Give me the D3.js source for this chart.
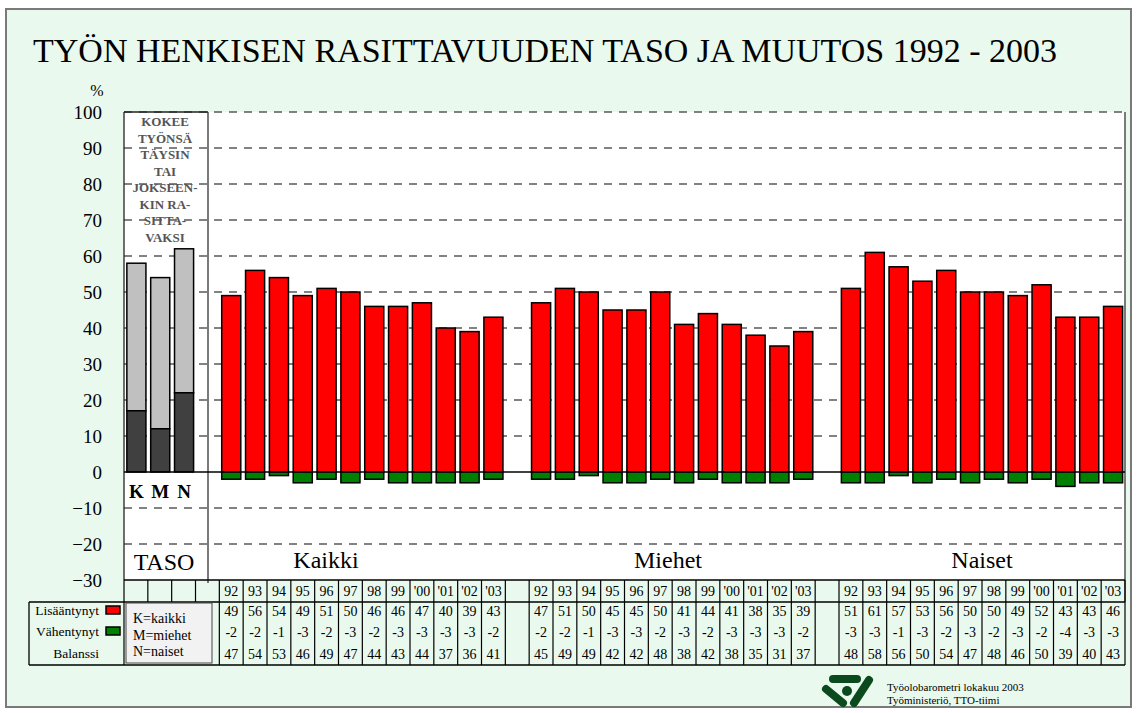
<!DOCTYPE html>
<html>
<head>
<meta charset="utf-8">
<script src="https://cdn.jsdelivr.net/npm/d3@7"></script>
<style>
  body { margin: 0; background: #fff; }
  svg text { font-family: 'Liberation Serif', 'Times New Roman', serif; }
</style>
</head>
<body>
<div id="chart"></div>
<script>
// Data
var years = ["92", "93", "94", "95", "96", "97", "98", "99", "'00", "'01", "'02", "'03"];
var groups = ["Kaikki", "Miehet", "Naiset"];

var kaikkiUp = [49, 56, 54, 49, 51, 50, 46, 46, 47, 40, 39, 43];
var kaikkiDown = [-2, -2, -1, -3, -2, -3, -2, -3, -3, -3, -3, -2];
var kaikkiBal = [47, 54, 53, 46, 49, 47, 44, 43, 44, 37, 36, 41];

var miehetUp = [47, 51, 50, 45, 45, 50, 41, 44, 41, 38, 35, 39];
var miehetDown = [-2, -2, -1, -3, -3, -2, -3, -2, -3, -3, -3, -2];
var miehetBal = [45, 49, 49, 42, 42, 48, 38, 42, 38, 35, 31, 37];

var naisetUp = [51, 61, 57, 53, 56, 50, 50, 49, 52, 43, 43, 46];
var naisetDown = [-3, -3, -1, -3, -2, -3, -2, -3, -2, -4, -3, -3];
var naisetBal = [48, 58, 56, 50, 54, 47, 48, 46, 50, 39, 40, 43];

// TASO: täysin (dark) + jokseenkin (light)
var tasoLabels = ["K", "M", "N"];
var tasoFully = [17, 12, 22];
var tasoSomewhat = [41, 42, 40];

var rowLabels = ["Lisääntynyt", "Vähentynyt", "Balanssi"];
var legendLines = ["K=kaikki", "M=miehet", "N=naiset"];
var yTicks = d3.range(-30, 101, 10);

// Setup
var svgWidth = 1137;
var svgHeight = 713;
var serif = "'Liberation Serif', 'Times New Roman', serif";

var svg = d3.select("#chart")
  .append("svg")
  .attr("width", svgWidth)
  .attr("height", svgHeight)
  .attr("font-family", serif);

// page background + frame
svg.append("rect")
  .attr("x", 6).attr("y", 9)
  .attr("width", 1125).attr("height", 698)
  .attr("fill", "#e9f9ed")
  .attr("stroke", "#7a7a7a")
  .attr("stroke-width", 2);

svg.append("text")
  .attr("x", 33).attr("y", 62)
  .attr("font-size", "34px")
  .attr("fill", "#000")
  .text("TYÖN HENKISEN RASITTAVUUDEN TASO JA MUUTOS 1992 - 2003");

// scales
var plotLeft = 124, plotRight = 1125;
var yScale = d3.scaleLinear().domain([-30, 100]).range([580, 112]);

var colScale = d3.scaleBand()
  .domain(d3.range(42))
  .range([plotLeft, plotRight])
  .padding(0);
var bw = colScale.bandwidth();

var groupStart = [4, 17, 30];

var rows = [];
var ups = [kaikkiUp, miehetUp, naisetUp];
var downs = [kaikkiDown, miehetDown, naisetDown];
var bals = [kaikkiBal, miehetBal, naisetBal];
groups.forEach(function (g, gi) {
  years.forEach(function (yr, yi) {
    rows.push({
      group: g, year: yr, col: groupStart[gi] + yi,
      up: ups[gi][yi], down: downs[gi][yi], bal: bals[gi][yi]
    });
  });
});

// plot area
svg.append("rect")
  .attr("x", plotLeft).attr("y", yScale(100))
  .attr("width", plotRight - plotLeft).attr("height", yScale(-30) - yScale(100))
  .attr("fill", "#fff");

// KOKEE ... text in TASO panel
var tasoText = ["KOKEE", "TYÖNSÄ", "TÄYSIN", "TAI", "JOKSEEN-", "KIN RA-", "SITTA-", "VAKSI"];
svg.append("g").selectAll("text")
  .data(tasoText)
  .enter()
  .append("text")
  .attr("x", 165)
  .attr("y", (d, i) => 126 + i * 16.5)
  .attr("text-anchor", "middle")
  .attr("font-size", "13px")
  .attr("font-weight", "bold")
  .attr("fill", "#555")
  .text(d => d);

// gridlines
svg.append("g").selectAll("line")
  .data(yTicks.filter(d => d !== 0 && d !== -30))
  .enter()
  .append("line")
  .attr("x1", plotLeft).attr("x2", plotRight)
  .attr("y1", d => yScale(d)).attr("y2", d => yScale(d))
  .attr("stroke", "#5a5a5a")
  .attr("stroke-width", 1.3)
  .attr("stroke-dasharray", "8,7");

// TASO separator
svg.append("line")
  .attr("x1", 208).attr("x2", 208)
  .attr("y1", yScale(100)).attr("y2", yScale(-30) + 3)
  .attr("stroke", "#7a7a7a")
  .attr("stroke-width", 2);

// plot borders
svg.append("line")
  .attr("x1", plotLeft).attr("x2", plotLeft)
  .attr("y1", yScale(100)).attr("y2", yScale(-30))
  .attr("stroke", "#222").attr("stroke-width", 1.3);
svg.append("line")
  .attr("x1", plotRight).attr("x2", plotRight)
  .attr("y1", yScale(100)).attr("y2", 602)
  .attr("stroke", "#7a7a7a").attr("stroke-width", 2);
svg.append("line")
  .attr("x1", plotLeft).attr("x2", 208)
  .attr("y1", yScale(100)).attr("y2", yScale(100))
  .attr("stroke", "#222").attr("stroke-width", 1.3);

// TASO bars
var tasoGroup = svg.append("g");
tasoGroup.selectAll(".light")
  .data(tasoLabels)
  .enter()
  .append("rect")
  .attr("x", (d, i) => colScale(i) + bw * 0.12)
  .attr("width", bw * 0.8)
  .attr("y", (d, i) => yScale(tasoFully[i] + tasoSomewhat[i]))
  .attr("height", (d, i) => yScale(tasoFully[i]) - yScale(tasoFully[i] + tasoSomewhat[i]))
  .attr("fill", "#c0c0c0")
  .attr("stroke", "#000")
  .attr("stroke-width", 1.5);

tasoGroup.selectAll(".dark")
  .data(tasoLabels)
  .enter()
  .append("rect")
  .attr("x", (d, i) => colScale(i) + bw * 0.12)
  .attr("width", bw * 0.8)
  .attr("y", (d, i) => yScale(tasoFully[i]))
  .attr("height", (d, i) => yScale(0) - yScale(tasoFully[i]))
  .attr("fill", "#404040")
  .attr("stroke", "#000")
  .attr("stroke-width", 1.5);

tasoGroup.selectAll("text")
  .data(tasoLabels)
  .enter()
  .append("text")
  .attr("x", (d, i) => colScale(i) + bw * 0.52)
  .attr("y", 498)
  .attr("text-anchor", "middle")
  .attr("font-size", "19px")
  .attr("font-weight", "bold")
  .text(d => d);

svg.append("text")
  .attr("x", 164).attr("y", 570)
  .attr("text-anchor", "middle")
  .attr("font-size", "24px")
  .text("TASO");

// main bars
var barGroup = svg.append("g");
barGroup.selectAll(".up")
  .data(rows)
  .enter()
  .append("rect")
  .attr("x", d => colScale(d.col) + bw * 0.1)
  .attr("width", bw * 0.8)
  .attr("y", d => yScale(d.up))
  .attr("height", d => yScale(0) - yScale(d.up))
  .attr("fill", "#ff0000")
  .attr("stroke", "#000")
  .attr("stroke-width", 1.5);

barGroup.selectAll(".down")
  .data(rows)
  .enter()
  .append("rect")
  .attr("x", d => colScale(d.col) + bw * 0.1)
  .attr("width", bw * 0.8)
  .attr("y", yScale(0))
  .attr("height", d => yScale(d.down) - yScale(0))
  .attr("fill", "#008000")
  .attr("stroke", "#000")
  .attr("stroke-width", 1.5);

// zero line
svg.append("line")
  .attr("x1", plotLeft).attr("x2", plotRight)
  .attr("y1", yScale(0)).attr("y2", yScale(0))
  .attr("stroke", "#000").attr("stroke-width", 1.3);

// group labels
var groupLabelX = [326, 668, 982];
svg.append("g").selectAll("text")
  .data(groups)
  .enter()
  .append("text")
  .attr("x", (d, i) => groupLabelX[i])
  .attr("y", 568)
  .attr("text-anchor", "middle")
  .attr("font-size", "24px")
  .text(d => d);

// y axis
var leftAxis = d3.axisLeft(yScale)
  .tickValues(yTicks)
  .tickSize(0)
  .tickPadding(22)
  .tickFormat(d3.format("d"));

var yAxis = svg.append("g")
  .attr("transform", `translate(${plotLeft}, 0)`)
  .call(leftAxis)
  .attr("font-family", serif);
yAxis.select(".domain").remove();
yAxis.selectAll("text")
  .attr("font-size", "19px")
  .attr("font-family", serif)
  .attr("fill", "#000")
  .attr("dy", "0.35em");

svg.append("text")
  .attr("x", 97).attr("y", 96)
  .attr("text-anchor", "middle")
  .attr("font-size", "16px")
  .text("%");

// table
var tableTop = 580, headBottom = 602, tableBottom = 665;
var table = svg.append("g");

// horizontal lines
table.append("line")
  .attr("x1", plotLeft).attr("x2", plotRight)
  .attr("y1", tableTop).attr("y2", tableTop)
  .attr("stroke", "#000").attr("stroke-width", 1.3);
table.append("line")
  .attr("x1", 29).attr("x2", plotRight)
  .attr("y1", headBottom).attr("y2", headBottom)
  .attr("stroke", "#000").attr("stroke-width", 1.3);
table.append("line")
  .attr("x1", 29).attr("x2", plotRight)
  .attr("y1", tableBottom).attr("y2", tableBottom)
  .attr("stroke", "#000").attr("stroke-width", 1.3);
table.append("line")
  .attr("x1", 29).attr("x2", 29)
  .attr("y1", headBottom).attr("y2", tableBottom)
  .attr("stroke", "#000").attr("stroke-width", 1.3);

// vertical column lines
var colEdges = d3.range(43).map(i => i < 42 ? colScale(i) : plotRight);
var dataEdges = [];
groupStart.forEach(function (s) {
  d3.range(13).forEach(j => dataEdges.push(s + j));
});
var headEdges = [0, 1, 2, 3].concat(dataEdges);
table.selectAll(".hv")
  .data(headEdges)
  .enter()
  .append("line")
  .attr("x1", d => colEdges[d]).attr("x2", d => colEdges[d])
  .attr("y1", tableTop).attr("y2", headBottom)
  .attr("stroke", "#000").attr("stroke-width", 1.2);

table.selectAll(".dv")
  .data([0].concat(dataEdges))
  .enter()
  .append("line")
  .attr("x1", d => colEdges[d]).attr("x2", d => colEdges[d])
  .attr("y1", headBottom).attr("y2", tableBottom)
  .attr("stroke", "#000").attr("stroke-width", 1.2);

// year headers
table.selectAll(".yr")
  .data(rows)
  .enter()
  .append("text")
  .attr("x", d => colScale(d.col) + bw / 2)
  .attr("y", 596)
  .attr("text-anchor", "middle")
  .attr("font-size", "14px")
  .text(d => d.year);

var rowY = [616, 637, 659];
["up", "down", "bal"].forEach(function (key, ri) {
  table.selectAll(".v" + key)
    .data(rows)
    .enter()
    .append("text")
    .attr("x", d => colScale(d.col) + bw / 2)
    .attr("y", rowY[ri])
    .attr("text-anchor", "middle")
    .attr("font-size", "14px")
    .text(d => d[key]);
});

// row labels
table.selectAll(".rl")
  .data(rowLabels)
  .enter()
  .append("text")
  .attr("x", 99)
  .attr("y", (d, i) => rowY[i] - 1)
  .attr("text-anchor", "end")
  .attr("font-size", "13.5px")
  .text(d => d);

var swatchColors = ["#ff0000", "#008000"];
table.selectAll(".sw")
  .data(swatchColors)
  .enter()
  .append("rect")
  .attr("x", 106)
  .attr("y", (d, i) => rowY[i] - 10)
  .attr("width", 14)
  .attr("height", 8)
  .attr("fill", d => d)
  .attr("stroke", "#000")
  .attr("stroke-width", 1.5);

// legend box
table.append("rect")
  .attr("x", 126).attr("y", 603)
  .attr("width", 86).attr("height", 60)
  .attr("fill", "#f2f2f2")
  .attr("stroke", "#444")
  .attr("stroke-width", 1);
table.selectAll(".lg")
  .data(legendLines)
  .enter()
  .append("text")
  .attr("x", 133)
  .attr("y", (d, i) => 623 + i * 16.5)
  .attr("font-size", "14px")
  .text(d => d);

// footer logo
var logo = svg.append("g")
  .attr("stroke", "#0b4a1c")
  .attr("stroke-linecap", "round")
  .attr("fill", "none");
logo.append("line")
  .attr("x1", 833).attr("y1", 679)
  .attr("x2", 857).attr("y2", 679)
  .attr("stroke-width", 8);
logo.append("line")
  .attr("x1", 826).attr("y1", 689)
  .attr("x2", 843).attr("y2", 703)
  .attr("stroke-width", 8);
logo.append("line")
  .attr("x1", 869).attr("y1", 680)
  .attr("x2", 854).attr("y2", 703)
  .attr("stroke-width", 8);
svg.append("circle")
  .attr("cx", 847).attr("cy", 691)
  .attr("r", 5)
  .attr("fill", "#0b4a1c");

svg.append("text")
  .attr("x", 887).attr("y", 691)
  .attr("font-size", "11px")
  .text("Työolobarometri lokakuu 2003");
svg.append("text")
  .attr("x", 887).attr("y", 704)
  .attr("font-size", "11px")
  .text("Työministeriö, TTO-tiimi");
</script>
</body>
</html>
